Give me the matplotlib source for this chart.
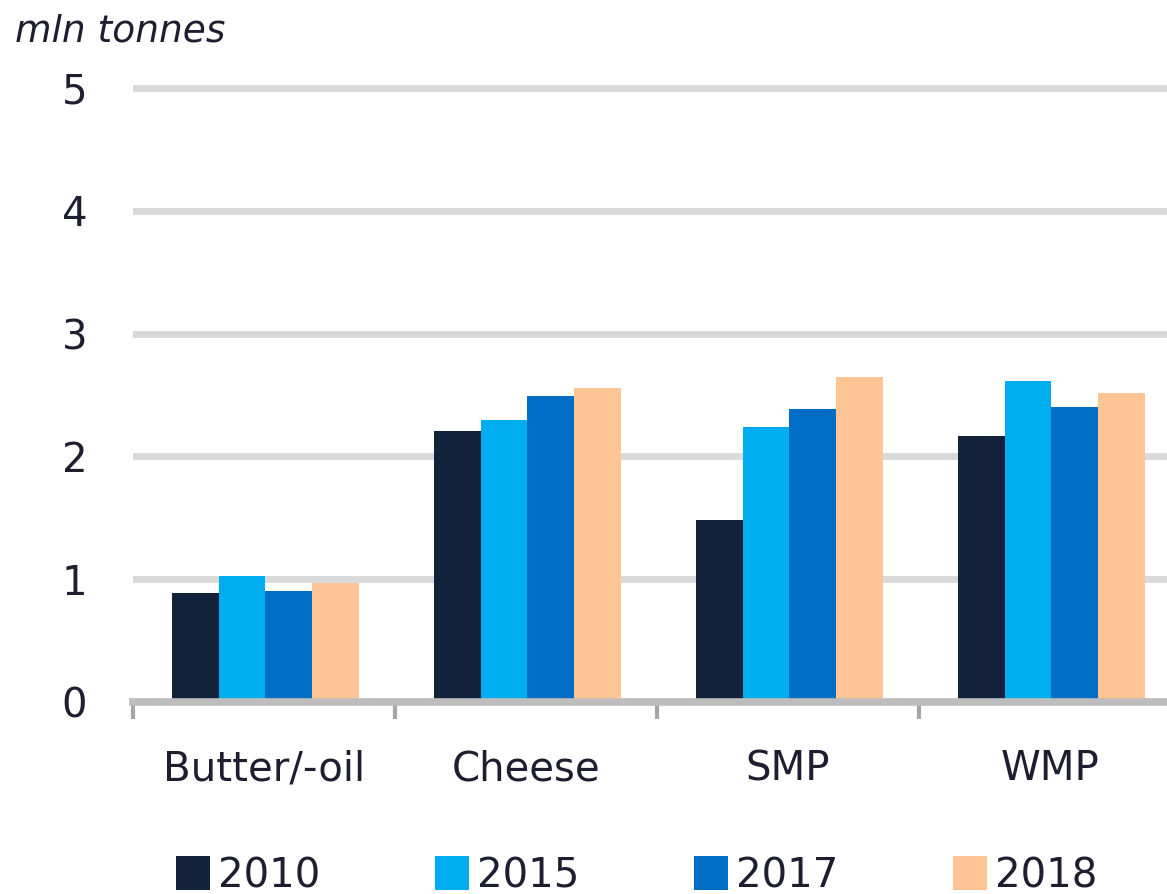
import matplotlib
matplotlib.use("Agg")
import matplotlib.pyplot as plt
import numpy as np
from matplotlib.patches import Patch

# data (mln tonnes)
categories = ["Butter/-oil", "Cheese", "SMP", "WMP"]
years = ["2010", "2015", "2017", "2018"]
v2010 = [0.89, 2.21, 1.48, 2.17]
v2015 = [1.03, 2.30, 2.24, 2.61]
v2017 = [0.90, 2.49, 2.39, 2.40]
v2018 = [0.97, 2.56, 2.65, 2.52]
yticks = [0, 1, 2, 3, 4, 5]

colors = ["#13223B", "#00AEEF", "#006EC6", "#FFC594"]
series = [v2010, v2015, v2017, v2018]
text_col = "#1E1E30"

plt.rcParams["font.family"] = ["DejaVu Sans"]

W, H = 1167, 894
fig = plt.figure(figsize=(W / 100, H / 100), dpi=100)

# axes box in pixels: x from 133 to 1181 (cut by the image edge), y=0 at 702, 122.8 px per unit
ytop = 5.1
px_unit = 122.8
ax = fig.add_axes([133 / W, 1 - 702 / H, 1048 / W, ytop * px_unit / H])

x = np.arange(len(categories))
bw = 0.178
for i, (vals, col) in enumerate(zip(series, colors)):
    ax.bar(x + (i - 1.5) * bw + 0.005, vals, width=bw, color=col, zorder=3,
           label=years[i])

ax.set_xlim(-0.5, len(categories) - 0.5)
ax.set_ylim(0, ytop)
ax.set_yticks(yticks)
ax.set_yticklabels([str(t) for t in yticks])
ax.yaxis.grid(True, color="#D9D9D9", linewidth=5, zorder=0)
ax.set_axisbelow(True)

for s in ["left", "right", "top"]:
    ax.spines[s].set_visible(False)
ax.spines["bottom"].set_color("#BDBDBD")
ax.spines["bottom"].set_linewidth(5.5)
ax.spines["bottom"].set_zorder(4)

ax.set_xticks(x)
ax.set_xticklabels(categories)
ax.set_xticks(np.arange(-0.5, len(categories) - 0.5, 1.0), minor=True)
ax.tick_params(axis="x", which="major", length=0, pad=34, labelsize=29,
               labelcolor=text_col)
ax.tick_params(axis="x", which="minor", length=12, width=3, color="#A6A6A6")
ax.tick_params(axis="y", length=0, pad=33, labelsize=29, labelcolor=text_col)

fig.text(15 / W, 1 - 42 / H, "mln tonnes", fontsize=27, style="italic",
         color=text_col, va="baseline", ha="left")

handles = [Patch(facecolor=c, edgecolor="none") for c in colors]
fig.legend(handles, years, loc="center left",
           bbox_to_anchor=(176 / W, 1 - 876 / H), ncol=4, frameon=False,
           fontsize=29, handlelength=0.84, handleheight=0.9,
           handletextpad=0.2, columnspacing=2.85, borderpad=0,
           borderaxespad=0, labelcolor=text_col)

fig.savefig("out.png", dpi=100)
